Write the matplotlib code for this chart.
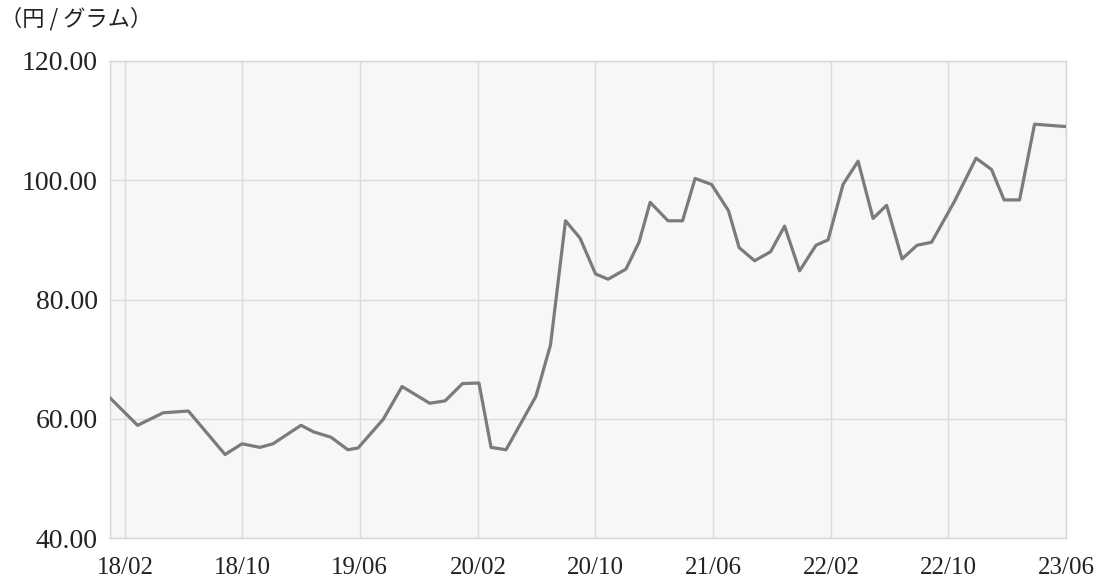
import matplotlib
matplotlib.use("Agg")
import matplotlib.pyplot as plt
import matplotlib.dates as mdates
import pandas as pd

dates = ["2018-01-01", "2018-02-27", "2018-04-21", "2018-06-12", "2018-08-27",
         "2018-10-01", "2018-11-07", "2018-12-04", "2019-01-31", "2019-02-26",
         "2019-04-03", "2019-05-08", "2019-05-29", "2019-07-20", "2019-08-28",
         "2019-10-24", "2019-11-25", "2019-12-31", "2020-02-03", "2020-02-28",
         "2020-03-30", "2020-05-31", "2020-06-30", "2020-07-31", "2020-08-30",
         "2020-10-01", "2020-10-27", "2020-12-03", "2020-12-30", "2021-01-22",
         "2021-02-28", "2021-03-30", "2021-04-25", "2021-05-29", "2021-07-03",
         "2021-07-25", "2021-08-26", "2021-09-28", "2021-10-27", "2021-11-27",
         "2021-12-31", "2022-01-25", "2022-02-25", "2022-03-28", "2022-04-28",
         "2022-05-26", "2022-06-27", "2022-07-28", "2022-08-27", "2022-10-13",
         "2022-11-27", "2022-12-29", "2023-01-24", "2023-02-25", "2023-03-28",
         "2023-06-01"]
prices = [63.5, 58.9, 61.0, 61.3, 54.0,
          55.8, 55.2, 55.8, 58.9, 57.8,
          56.9, 54.8, 55.1, 59.9, 65.4,
          62.6, 63.0, 65.9, 66.0, 55.2,
          54.8, 63.8, 72.4, 93.2, 90.3,
          84.3, 83.4, 85.1, 89.6, 96.3,
          93.2, 93.2, 100.3, 99.3, 94.9,
          88.7, 86.5, 88.0, 92.3, 84.8,
          89.1, 90.0, 99.3, 103.2, 93.6,
          95.8, 86.8, 89.1, 89.6, 96.4,
          103.7, 101.8, 96.7, 96.7, 109.4,
          109.0]
tick_dates = pd.date_range("2018-02-01", "2023-06-01", freq="8MS")
y_ticks = [40, 60, 80, 100, 120]
unit_label = "（円 / グラム）"

x = pd.to_datetime(dates)

fig = plt.figure(figsize=(11.03, 5.86), dpi=100)
ax = fig.add_axes([110 / 1103, 1 - 538 / 586, (1066 - 110) / 1103, (538 - 61) / 586])
ax.set_facecolor("#f7f7f7")

ax.plot(x, prices, color="#7b7b7b", linewidth=2.3, zorder=3)

ax.set_xlim(x[0], x[-1])
ax.set_ylim(40, 120)
ax.set_xticks(tick_dates)
ax.xaxis.set_major_formatter(mdates.DateFormatter("%y/%m"))
ax.set_yticks(y_ticks)
ax.set_yticklabels([f"{v:.2f}" for v in y_ticks])

ax.grid(True, color="#dcdcdc", linewidth=1.0)
ax.set_axisbelow(True)
for s in ax.spines.values():
    s.set_color("#d6d6d6")
    s.set_linewidth(1.0)

ax.tick_params(axis="both", length=0, labelcolor="#222222")
ax.tick_params(axis="x", pad=14, labelsize=18)
ax.tick_params(axis="y", pad=9, labelsize=20)
for lab in ax.get_xticklabels() + ax.get_yticklabels():
    lab.set_fontfamily(["Liberation Serif", "DejaVu Serif"])

fig.text(0.0, 1 - 19 / 586, unit_label, ha="left", va="center", fontsize=16,
         color="#222222", family=["Noto Sans CJK JP", "DejaVu Sans"])

fig.savefig("out.png", dpi=100)
